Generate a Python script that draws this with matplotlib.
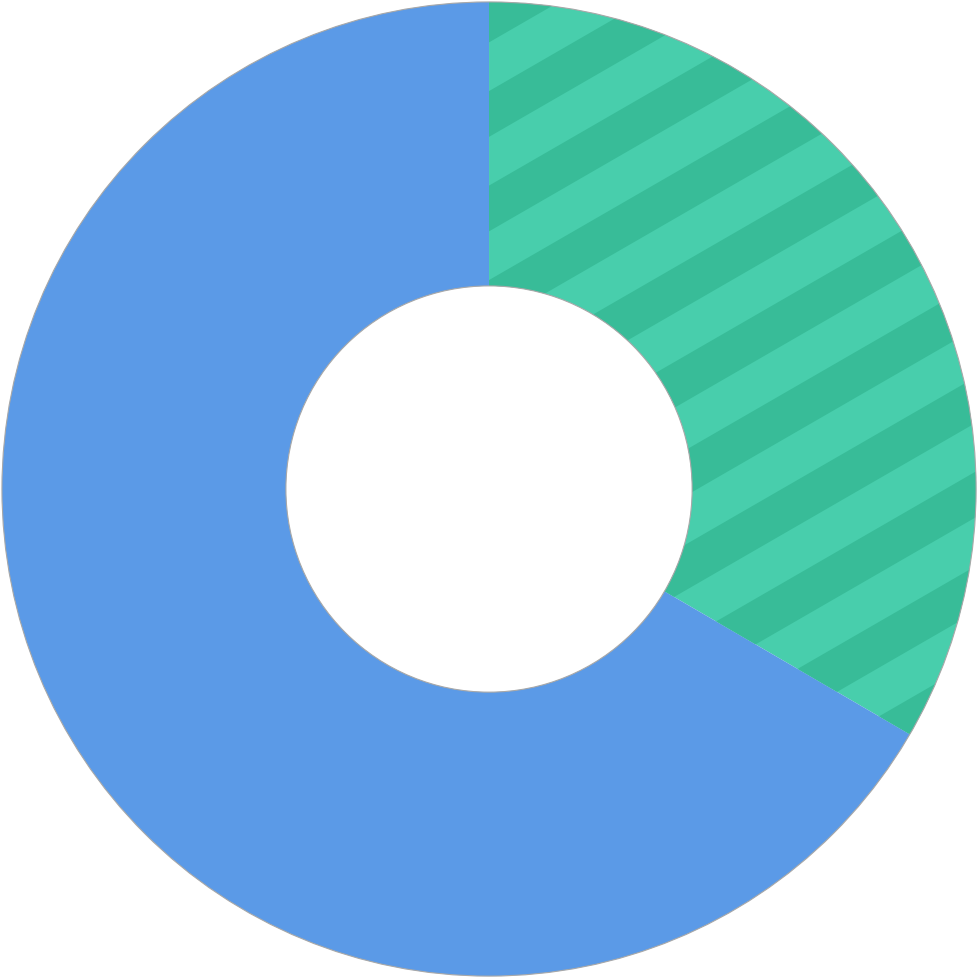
import numpy as np
import matplotlib
matplotlib.use("Agg")
import matplotlib.pyplot as plt
from matplotlib.patches import Polygon, Circle

# Data
categories = ["Green", "Blue"]
values = [33.4, 66.6]
colors = ["#48CEAC", "#5B9AE7"]
stripe_color = "#38BC98"

fig = plt.figure(figsize=(9.8, 9.8), dpi=100)
ax = fig.add_axes([0, 0, 1, 1])

inner = 0.417
wedges, _ = ax.pie(values, colors=colors, startangle=90, counterclock=False,
                   radius=1.0, wedgeprops=dict(width=1 - inner, edgecolor="none",
                                               linewidth=0, antialiased=True))
ax.set_xlim(-1.004, 1.008)
ax.set_ylim(-1.008, 1.004)
ax.set_aspect("equal")
ax.axis("off")

# diagonal stripes clipped to the first (green) wedge
ang = np.deg2rad(30)
period = 0.194
band = 0.094
c0 = 0.723
t = np.tan(ang)
for k in range(-15, 15):
    c_lo = c0 + k * period
    c_hi = c_lo + band
    xs = np.array([-1.2, 1.2])
    poly = Polygon([[xs[0], xs[0] * t + c_lo], [xs[1], xs[1] * t + c_lo],
                    [xs[1], xs[1] * t + c_hi], [xs[0], xs[0] * t + c_hi]],
                   closed=True, facecolor=stripe_color, edgecolor="none", zorder=2)
    ax.add_patch(poly)
    poly.set_clip_path(wedges[0])

# thin grey outlines
for r in (1.0, inner):
    ax.add_patch(Circle((0, 0), r, fill=False, edgecolor="#a8a8a8", linewidth=0.8, zorder=3))

fig.savefig("out.png", dpi=100)
